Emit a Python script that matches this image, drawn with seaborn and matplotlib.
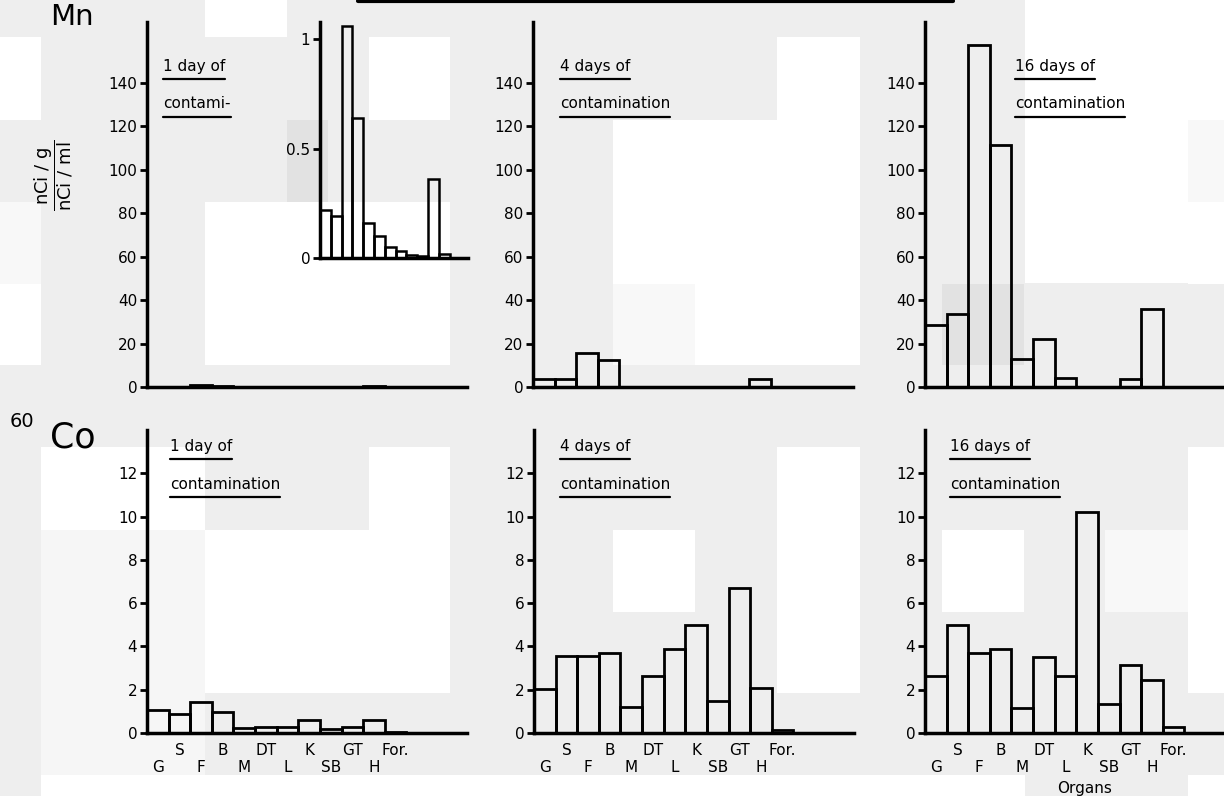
import numpy as np
import pandas as pd
import seaborn as sns
import matplotlib
matplotlib.use("Agg")
import matplotlib.pyplot as plt
from matplotlib.patches import Rectangle
from matplotlib.lines import Line2D

# ---------------- data ----------------
organs = ["G", "S", "F", "B", "M", "DT", "L", "K", "SB", "GT", "H", "For."]
mn_1day = [0.22, 0.19, 1.06, 0.64, 0.16, 0.10, 0.05, 0.03, 0.015, 0.01, 0.36, 0.02]
mn_4days = [3.5, 3.5, 15.7, 12.6, 0.0, 0.0, 0.0, 0.0, 0.0, 0.0, 3.8, 0.0]
mn_16days = [28.5, 33.5, 157.5, 111.5, 13.0, 22.3, 4.0, 0.0, 0.0, 3.8, 35.7, 0.0]
co_1day = [1.05, 0.90, 1.43, 0.97, 0.23, 0.28, 0.26, 0.62, 0.19, 0.26, 0.62, 0.05]
co_4days = [2.04, 3.58, 3.58, 3.70, 1.20, 2.65, 3.86, 4.98, 1.47, 6.68, 2.08, 0.12]
co_16days = [2.65, 5.00, 3.70, 3.86, 1.16, 3.50, 2.65, 10.19, 1.36, 3.12, 2.47, 0.28]

mn_ticks = [0, 20, 40, 60, 80, 100, 120, 140]
co_ticks = [0, 2, 4, 6, 8, 10, 12]
inset_ticks = [0, 0.5, 1]
inset_ticklabels = ["0", "0.5", "1"]

W, H = 1224, 796
sns.set_theme(style="white")
plt.rcParams["font.family"] = ["DejaVu Sans"]
plt.rcParams["text.color"] = "black"
plt.rcParams["axes.labelcolor"] = "black"
plt.rcParams["xtick.color"] = "black"
plt.rcParams["ytick.color"] = "black"

fig = plt.figure(figsize=(W / 100, H / 100), dpi=100)
fig.patch.set_facecolor("#eeeeee")


def px_rect(x, y, w, h):
    return [x / W, 1 - (y + h) / H, w / W, h / H]


# scanned-page background tiles
tiles = [
    (0, 37, 41, 83, "white"), (205, 0, 82, 37, "white"), (205, 202, 245, 163, "white"),
    (369, 37, 81, 83, "white"), (0, 202, 41, 82, "#f8f8f8"), (0, 284, 41, 81, "white"),
    (287, 120, 41, 82, "#e2e2e2"), (613, 120, 164, 245, "white"), (777, 37, 83, 328, "white"),
    (613, 284, 82, 81, "#f8f8f8"), (1025, 0, 199, 120, "white"), (1025, 120, 163, 163, "white"),
    (1188, 120, 36, 82, "#f8f8f8"), (1188, 202, 36, 82, "white"), (942, 284, 82, 81, "#e2e2e2"),
    (41, 447, 164, 83, "white"), (41, 530, 164, 245, "#f6f6f6"), (205, 530, 245, 163, "white"),
    (369, 447, 81, 83, "white"), (41, 775, 984, 21, "white"), (1188, 775, 36, 21, "white"),
    (613, 530, 82, 82, "white"), (777, 447, 83, 246, "white"), (942, 530, 82, 82, "white"),
    (1188, 447, 36, 246, "white"), (1105, 530, 83, 82, "#f8f8f8"),
]
for x, y, w, h, c in tiles:
    r = px_rect(x, y, w, h)
    fig.add_artist(Rectangle((r[0], r[1]), r[2], r[3], transform=fig.transFigure,
                             facecolor=c, edgecolor="none", zorder=-10))


def bars(ax, vals, lw=2.0):
    df = pd.DataFrame({"organ": organs, "value": vals})
    sns.barplot(data=df, x="organ", y="value", order=organs, width=1.0, fill=False,
                color="black", linewidth=lw, errorbar=None, ax=ax)
    ax.set_xlabel("")
    ax.set_ylabel("")
    ax.set_facecolor("none")
    for s in ["top", "right"]:
        ax.spines[s].set_visible(False)
    for s in ["left", "bottom"]:
        ax.spines[s].set_visible(True)
        ax.spines[s].set_linewidth(2.5)
        ax.spines[s].set_color("black")
    ax.tick_params(axis="y", left=True, direction="out", length=5, width=2,
                   labelsize=11, pad=2, colors="black")


top_y, top_h = 22, 365
bot_y, bot_h = 430, 303
lefts = [147, 533, 925]
width = 320

top_vals = [mn_1day, mn_4days, mn_16days]
bot_vals = [co_1day, co_4days, co_16days]
titles_top = [("1 day of", "contami-"), ("4 days of", "contamination"), ("16 days of", "contamination")]
titles_bot = [("1 day of", "contamination"), ("4 days of", "contamination"), ("16 days of", "contamination")]
title_x_top = [163, 560, 1015]
title_x_bot = [170, 560, 950]

title_texts = []

for i in range(3):
    ax = fig.add_axes(px_rect(lefts[i], top_y, width, top_h))
    bars(ax, top_vals[i])
    ax.set_xlim(-0.5, 14.3)
    ax.set_ylim(0, 168)
    ax.set_yticks(mn_ticks)
    ax.set_yticklabels([str(t) for t in mn_ticks])
    ax.set_xticks([])
    l1, l2 = titles_top[i]
    t1 = fig.text(title_x_top[i] / W, 1 - 66 / H, l1, fontsize=11, va="center", ha="left")
    t2 = fig.text(title_x_top[i] / W, 1 - 104 / H, l2, fontsize=11, va="center", ha="left")
    title_texts += [t1, t2]

for i in range(3):
    ax = fig.add_axes(px_rect(lefts[i] + (1 if i == 1 else 0), bot_y, width, bot_h))
    bars(ax, bot_vals[i])
    ax.set_xlim(-0.5, 14.3)
    ax.set_ylim(0, 14.0)
    ax.set_yticks(co_ticks)
    ax.set_yticklabels([str(t) for t in co_ticks])
    ax.set_xticks(range(len(organs)))
    ax.set_xticklabels([o if k % 2 == 1 else "\n" + o for k, o in enumerate(organs)],
                       fontsize=11, linespacing=1.15)
    ax.tick_params(axis="x", bottom=False, length=0, pad=7, colors="black")
    if i == 2:
        ax.set_xlabel("Organs", fontsize=11, labelpad=5)
    l1, l2 = titles_bot[i]
    t1 = fig.text(title_x_bot[i] / W, 1 - 446 / H, l1, fontsize=11, va="center", ha="left")
    t2 = fig.text(title_x_bot[i] / W, 1 - 485 / H, l2, fontsize=11, va="center", ha="left")
    title_texts += [t1, t2]

# inset for 1 day Mn
axi = fig.add_axes(px_rect(320, 22, 148, 236))
bars(axi, mn_1day, lw=1.8)
axi.set_xlim(-0.5, 13.2)
axi.set_ylim(0, 1.078)
axi.set_yticks(inset_ticks)
axi.set_yticklabels(inset_ticklabels)
axi.set_xticks([])

# row labels
fig.text(50 / W, 1 - 25 / H, "Mn", fontsize=21, va="baseline", ha="left")
fig.text(10 / W, 1 - 427 / H, "60", fontsize=14, va="baseline", ha="left")
fig.text(50 / W, 1 - 447 / H, "Co", fontsize=25, va="baseline", ha="left")
fig.text(54 / W, 1 - 175 / H, r"$\dfrac{\mathrm{nCi\ /\ g}}{\mathrm{nCi\ /\ ml}}$",
         rotation=90, fontsize=13, ha="center", va="center")

# cut-off title underline at top
fig.add_artist(Line2D([358 / W, 953 / W], [1 - 1 / H, 1 - 1 / H], transform=fig.transFigure,
                      color="black", linewidth=3))

# underline the panel captions
fig.canvas.draw()
renderer = fig.canvas.get_renderer()
for t in title_texts:
    bb = t.get_window_extent(renderer)
    yy = (bb.y0 - 5) / fig.bbox.height
    fig.add_artist(Line2D([bb.x0 / fig.bbox.width, bb.x1 / fig.bbox.width], [yy, yy],
                          transform=fig.transFigure, color="black", linewidth=1.6))

fig.savefig("out.png", dpi=100, facecolor=fig.get_facecolor())
